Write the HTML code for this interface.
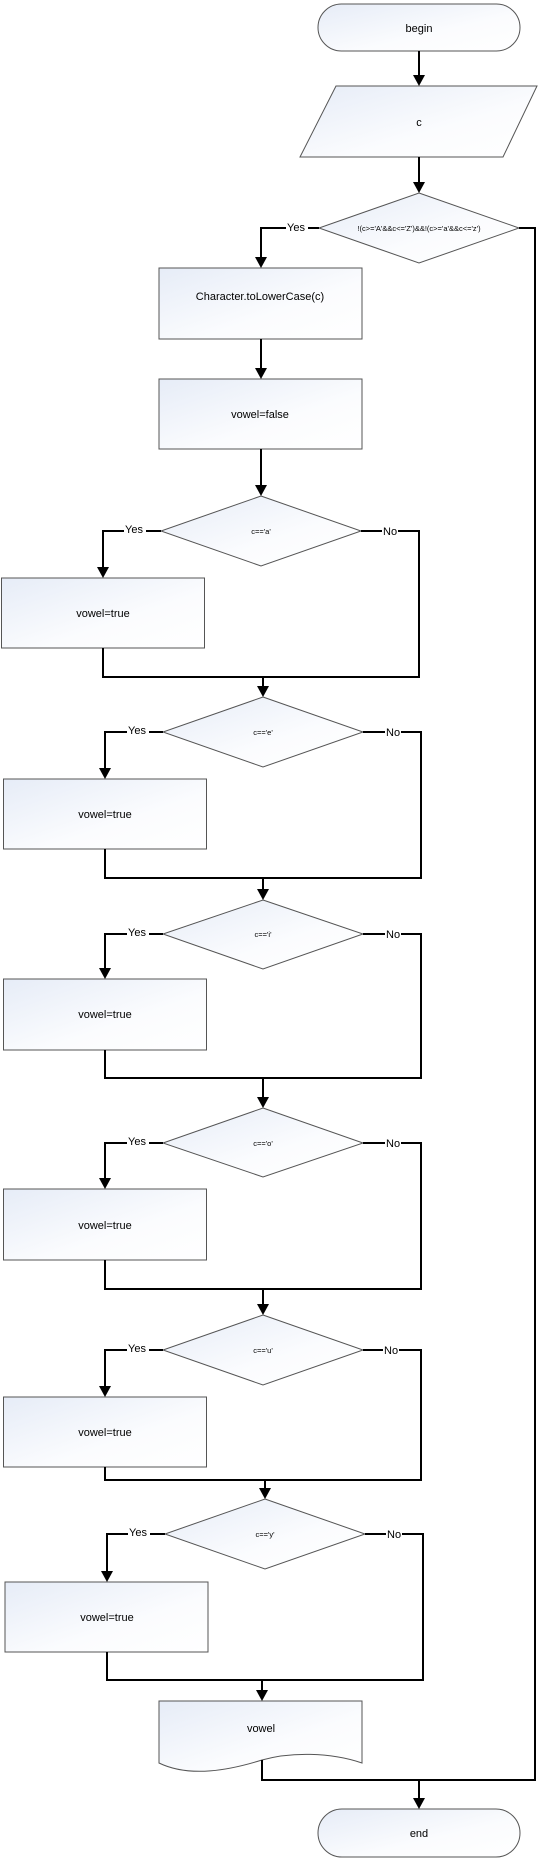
<!DOCTYPE html>
<html><head><meta charset="utf-8"><style>
html,body{margin:0;padding:0;background:#fff;}
svg{display:block;}
text{font-family:"Liberation Sans",sans-serif;fill:#000;}
</style></head><body>
<svg width="539" height="1861" viewBox="0 0 539 1861" xmlns="http://www.w3.org/2000/svg">
<defs>
<linearGradient id="g" x1="0" y1="0" x2="1" y2="1">
<stop offset="0" stop-color="#e6ecf7"/><stop offset="0.6" stop-color="#fbfcfe"/><stop offset="1" stop-color="#ffffff"/>
</linearGradient>
</defs>
<g fill="url(#g)" stroke="#555" stroke-width="1">
<rect x="318" y="4" width="202" height="47" rx="23.5"/>
<polygon points="336,86 537,86 503,157 300,157"/>
<polygon points="419,193 519,228 419,263 319,228"/>
<rect x="159" y="268" width="203" height="71"/>
<rect x="159" y="379" width="203" height="70"/>
<polygon points="261,496 361,531 261,566 161,531"/>
<rect x="1.5" y="578" width="203" height="70"/>
<polygon points="263,697 363,732 263,767 163,732"/>
<rect x="3.5" y="779" width="203" height="70"/>
<polygon points="263,900 363,934 263,969 163,934"/>
<rect x="3.5" y="979" width="203" height="71"/>
<polygon points="263,1108 363,1143 263,1177 163,1143"/>
<rect x="3.5" y="1189" width="203" height="71"/>
<polygon points="263,1315 363,1350 263,1385 163,1350"/>
<rect x="3.5" y="1397" width="203" height="70"/>
<polygon points="265,1499 365,1534 265,1569 165,1534"/>
<rect x="5" y="1582" width="203" height="70"/>
<path d="M159,1701 L362,1701 L362,1763 C330,1752 290,1752 262,1760 C230,1770 190,1778 159,1763 Z"/>
<rect x="318" y="1809" width="202" height="48" rx="24"/>
</g>
<g fill="none" stroke="#000" stroke-width="2">
<path d="M419,51 V78"/><path d="M419,157 V185"/>
<path d="M319,228 H261 V260"/>
<path d="M519,228 H535 V1780"/>
<path d="M261,339 V371"/><path d="M261,449 V488"/>
<path d="M161,531 H103 V570"/><path d="M361,531 H419 V677 H103 V648"/><path d="M263,677 V689"/>
<path d="M163,732 H105 V771"/><path d="M363,732 H421 V878 H105 V849"/><path d="M263,878 V892"/>
<path d="M163,934 H105 V971"/><path d="M363,934 H421 V1078 H105 V1050"/><path d="M263,1078 V1100"/>
<path d="M163,1143 H105 V1181"/><path d="M363,1143 H421 V1289 H105 V1260"/><path d="M263,1289 V1307"/>
<path d="M163,1350 H105 V1389"/><path d="M363,1350 H421 V1480 H105 V1467"/><path d="M265,1480 V1491"/>
<path d="M165,1534 H107 V1574"/><path d="M365,1534 H423 V1680 H107 V1652"/><path d="M262,1680 V1693"/>
<path d="M262,1760 V1780 H536"/><path d="M419,1780 V1801"/>
</g>
<g fill="#000">
<polygon points="413,75 425,75 419,86"/>
<polygon points="413,182 425,182 419,193"/>
<polygon points="255,257 267,257 261,268"/>
<polygon points="255,368 267,368 261,379"/>
<polygon points="255,485 267,485 261,496"/>
<polygon points="97,567 109,567 103,578"/>
<polygon points="257,686 269,686 263,697"/>
<polygon points="99,768 111,768 105,779"/>
<polygon points="257,889 269,889 263,900"/>
<polygon points="99,968 111,968 105,979"/>
<polygon points="257,1097 269,1097 263,1108"/>
<polygon points="99,1178 111,1178 105,1189"/>
<polygon points="257,1304 269,1304 263,1315"/>
<polygon points="99,1386 111,1386 105,1397"/>
<polygon points="259,1488 271,1488 265,1499"/>
<polygon points="101,1571 113,1571 107,1582"/>
<polygon points="256,1690 268,1690 262,1701"/>
<polygon points="413,1798 425,1798 419,1809"/>
</g>
<g font-size="11" text-anchor="middle">
<text x="419" y="32">begin</text>
<text x="419" y="126">c</text>
<text x="419" y="231" font-size="7.5">!(c&gt;='A'&amp;&amp;c&lt;='Z')&amp;&amp;!(c&gt;='a'&amp;&amp;c&lt;='z')</text>
<text x="260" y="300">Character.toLowerCase(c)</text>
<text x="260" y="418">vowel=false</text>
<text x="261" y="534" font-size="7.5">c=='a'</text>
<text x="103" y="617">vowel=true</text>
<text x="263" y="735" font-size="7.5">c=='e'</text>
<text x="105" y="818">vowel=true</text>
<text x="263" y="937" font-size="7.5">c=='i'</text>
<text x="105" y="1018">vowel=true</text>
<text x="263" y="1146" font-size="7.5">c=='o'</text>
<text x="105" y="1229">vowel=true</text>
<text x="263" y="1353" font-size="7.5">c=='u'</text>
<text x="105" y="1436">vowel=true</text>
<text x="265" y="1537" font-size="7.5">c=='y'</text>
<text x="107" y="1621">vowel=true</text>
<text x="261" y="1732">vowel</text>
<text x="419" y="1837">end</text>
</g>
<g font-size="11">
<rect x="286" y="221" width="22" height="12" fill="#fff"/><text x="287" y="231">Yes</text>
<rect x="124" y="524" width="22" height="12" fill="#fff"/><text x="125" y="533">Yes</text>
<rect x="382" y="525" width="16" height="12" fill="#fff"/><text x="383" y="535">No</text>
<rect x="127" y="725" width="22" height="12" fill="#fff"/><text x="128" y="734">Yes</text>
<rect x="385" y="726" width="16" height="12" fill="#fff"/><text x="386" y="736">No</text>
<rect x="127" y="927" width="22" height="12" fill="#fff"/><text x="128" y="936">Yes</text>
<rect x="385" y="928" width="16" height="12" fill="#fff"/><text x="386" y="938">No</text>
<rect x="127" y="1136" width="22" height="12" fill="#fff"/><text x="128" y="1145">Yes</text>
<rect x="385" y="1137" width="16" height="12" fill="#fff"/><text x="386" y="1147">No</text>
<rect x="127" y="1343" width="22" height="12" fill="#fff"/><text x="128" y="1352">Yes</text>
<rect x="383" y="1344" width="16" height="12" fill="#fff"/><text x="384" y="1354">No</text>
<rect x="128" y="1527" width="22" height="12" fill="#fff"/><text x="129" y="1536">Yes</text>
<rect x="386" y="1528" width="16" height="12" fill="#fff"/><text x="387" y="1538">No</text>
</g>
</svg>
</body></html>
